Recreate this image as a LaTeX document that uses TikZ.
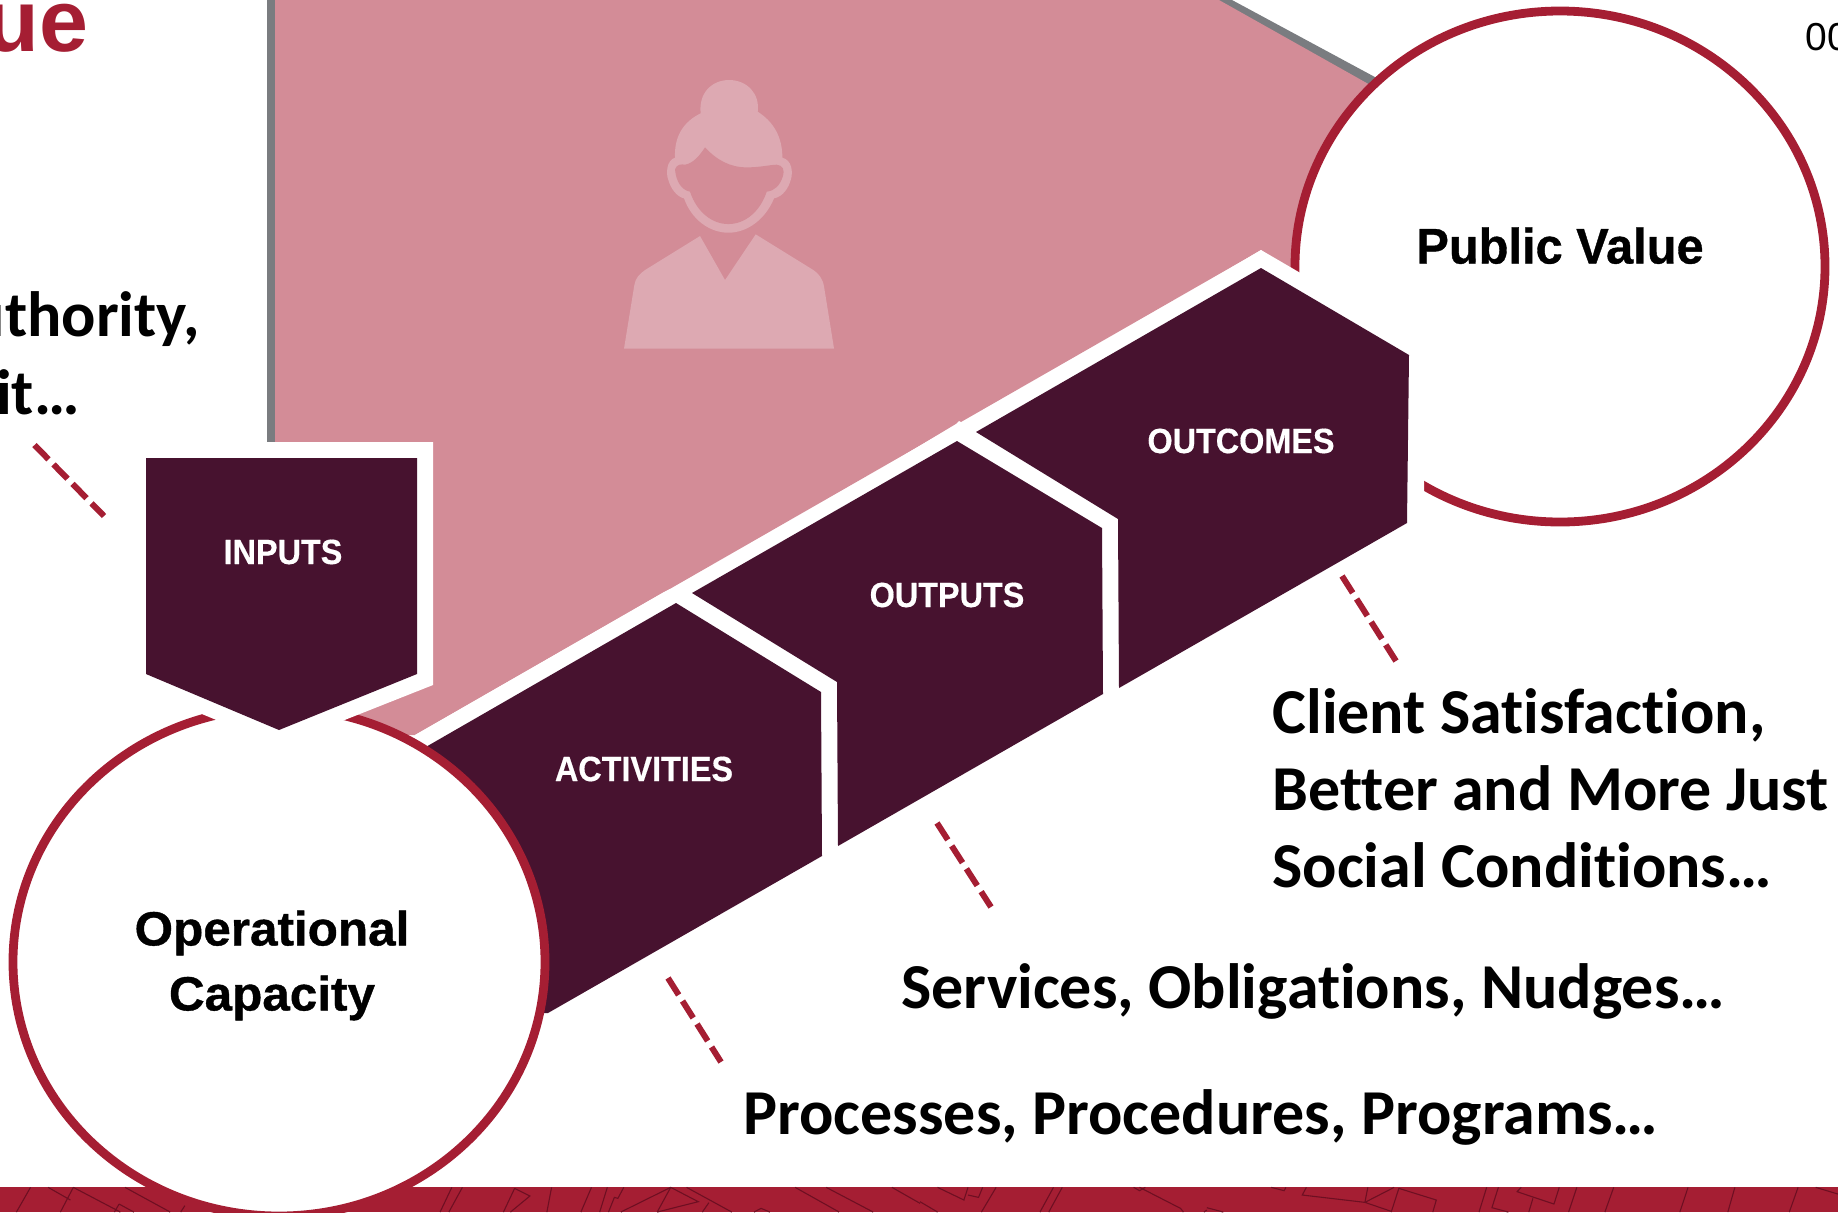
\documentclass[tikz,border=0pt]{standalone}
\usepackage{fontspec}
\newfontfamily\cb{Carlito}[Ligatures=NoCommon]
\newfontfamily\lab{Liberation Sans}[FakeStretch=0.925,FakeBold=0.4]
\newfontfamily\labb{Liberation Sans}[FakeStretch=0.975,FakeBold=0.7]
\newfontfamily\labc{Liberation Sans}[FakeStretch=1.03,FakeBold=0.8]
\newfontfamily\ar{Liberation Sans}
\definecolor{pinkc}{HTML}{D38C97}
\definecolor{grayc}{HTML}{7A7C80}
\definecolor{redc}{HTML}{A51E33}
\definecolor{darkc}{HTML}{47122F}
\definecolor{persc}{HTML}{DDA9B2}
\definecolor{linec}{HTML}{6E0F22}
\tikzset{
  hex/.style={fill=darkc,draw=none},
  ring/.style={fill=white,draw=redc,line width=4.4pt},
  leader/.style={draw=redc,line width=3pt,dash pattern=on 10pt off 3.6pt},
  steplabel/.style={inner sep=0pt,anchor=base,text=white,font=\lab\bfseries\fontsize{17.5}{20}\selectfont},
  ringlabel/.style={inner sep=0pt,text=black},
  bodytext/.style={inner sep=0pt,text=black,anchor=base west,font=\cb\bfseries\fontsize{32}{38.5}\selectfont},
  tex/.style={draw=linec,line width=0.55pt}
}
\begin{document}
\begin{tikzpicture}[x=0.5pt,y=-0.5pt]
\useasboundingbox (0,0) rectangle (1838,1212);
\clip (0,0) rectangle (1838,1212);
% background area
\fill[grayc] (267,0) -- (1232,0) -- (1386,83) -- (1340,120) -- (275,442) -- (267,442) -- cycle;
\fill[pinkc] (275,0) -- (1219,0) -- (1372,86) -- (1330,300) -- (1261,250) -- (415,735) -- (275,735) -- cycle;
% bottom band with texture
\fill[redc] (0,1187) rectangle (1838,1212);
\begin{scope}[shift={(0,1140)},x=0.2934pt,y=-0.1667pt]
\draw[tex] (52,142)--(28,216) (82,142)--(120,180) (125,142)--(103,216) (125,142)--(205,216) (213,142)--(290,216)
 (203,192)--(195,216) (203,192)--(228,216) (315,197)--(308,216) (770,142)--(750,216) (788,142)--(765,216)
 (877,145)--(858,216) (877,145)--(903,168)--(870,216) (940,142)--(932,216) (1008,142)--(990,216) (1035,142)--(1022,216)
 (1063,142)--(1053,175)--(1047,172)--(1037,216) (1143,142)--(1058,216) (1143,142)--(1190,185)--(1120,216) (1143,142)--(1120,216)
 (1170,142)--(1247,216) (1208,188)--(1197,216) (1297,205)--(1285,216) (1297,205)--(1312,216) (1355,142)--(1430,216)
 (1408,142)--(1488,216) (1520,142)--(1568,190);
\end{scope}
\begin{scope}[shift={(920,1140)},x=0.2927pt,y=-0.1667pt]
\draw[tex] (30,142)--(75,180)--(82,142) (82,165)--(100,172)--(107,142) (0,185)--(30,216) (130,142)--(105,216)
 (243,142)--(220,216) (228,142)--(205,216) (365,142)--(375,152)--(385,142) (375,142)--(445,205)--(450,216)
 (490,210)--(485,216) (490,203)--(518,216) (600,142)--(622,152)--(625,142)
 (660,142)--(653,165)--(760,187)--(765,142) (810,142)--(760,187)--(805,214) (818,145)--(805,216)
 (818,145)--(882,180)--(876,216) (968,142)--(955,216) (988,142)--(977,203)--(1005,216)
 (1027,142)--(1020,155)--(1083,192)--(1092,142) (1047,175)--(1040,216) (1122,142)--(1108,216)
 (1185,142)--(1170,216) (1312,142)--(1298,216) (1392,142)--(1380,216) (1500,142)--(1485,216) (1530,142)--(1568,162);
\end{scope}
% person icon
\begin{scope}[shift={(600,60)},x=0.1667pt,y=-0.1667pt]
\fill[persc] (72,866) -- (702,866) -- (672,680) .. controls (668,655) and (655,640) .. (640,630) -- (467,523) -- (375,660) -- (300,528) -- (135,630) .. controls (118,642) and (106,655) .. (103,675) -- cycle;
\fill[persc] (225,293) .. controls (200,300) and (197,340) .. (205,360) .. controls (212,385) and (230,410) .. (252,415)
 .. controls (275,480) and (330,518) .. (385,518) .. controls (440,518) and (495,480) .. (522,415)
 .. controls (548,410) and (565,385) .. (572,360) .. controls (580,335) and (575,300) .. (547,293)
 .. controls (547,230) and (520,185) .. (473,155) .. controls (480,100) and (440,60) .. (387,60)
 .. controls (335,60) and (295,100) .. (302,160) .. controls (250,185) and (222,230) .. (225,293) -- cycle;
\fill[pinkc] (225,328) .. controls (230,312) and (245,312) .. (255,314) .. controls (280,310) and (300,285) .. (315,262)
 .. controls (350,300) and (390,322) .. (440,322) .. controls (480,322) and (505,315) .. (530,314)
 .. controls (548,316) and (555,328) .. (548,350) .. controls (540,375) and (525,392) .. (500,395)
 .. controls (480,455) and (435,492) .. (385,492) .. controls (335,492) and (290,455) .. (270,395)
 .. controls (245,390) and (228,365) .. (225,328) -- cycle;
\end{scope}
% public value circle
\draw[ring] (1560,266.5) ellipse [x radius=265,y radius=255.5];
% chevron band
\fill[white] (415,735) -- (664,592) -- (670,589) -- (676,592) -- (956,424) -- (959,421) -- (968,426) -- (1261,250) -- (1424,345) -- (1424,532) -- (548,1040) -- (415,1040) -- cycle;
\fill[hex] (431,744) -- (676,603) -- (821,692) -- (822,856) -- (548,1013) -- (400,1013) -- (400,762) -- cycle;
\fill[hex] (692,593) -- (957,441) -- (1102,528) -- (1103,694) -- (838,846) -- (837,682) -- cycle;
\fill[hex] (976,432) -- (1261,268) -- (1409,355) -- (1407,523) -- (1119,688) -- (1118,519) -- cycle;
% operational capacity circle
\draw[ring] (279,962) ellipse [x radius=266,y radius=254];
% inputs
\fill[white] (120,442) -- (433,442) -- (433,685) -- (279,746) -- (120,680) -- cycle;
\fill[hex] (146,458) -- (417,458) -- (417,674) -- (279,730) -- (146,674) -- cycle;
% labels
\node[steplabel] (inputs) at (283,564) {INPUTS};
\node[steplabel] (activities) at (644,781) {ACTIVITIES};
\node[steplabel] (outputs) at (947,607) {OUTPUTS};
\node[steplabel] (outcomes) at (1241,453) {OUTCOMES};
\node[ringlabel,anchor=base,font=\labb\bfseries\fontsize{25}{30}\selectfont] (pv) at (1560,263.5) {Public Value};
\node[ringlabel,align=center,anchor=center,font=\labc\bfseries\fontsize{24}{32.5}\selectfont] (oc) at (272,965.5) {Operational\\Capacity};
% text
\node[inner sep=0pt,anchor=base east,text=redc,font=\ar\bfseries\fontsize{44}{50}\selectfont] (title) at (89,51) {ue};
\node[bodytext,anchor=base east] (auth) at (200,336) {uthority,};
\node[bodytext,anchor=base east] (cred) at (80,414) {it…};
\node[bodytext,align=left,anchor=north west] (client) at (1272,688.5) {Client Satisfaction,\\Better and More Just\\Social Conditions…};
\node[bodytext] (serv) at (901,1008) {Services, Obligations, Nudges…};
\node[bodytext] (proc) at (743,1134) {Processes, Procedures, Programs…};
\node[inner sep=0pt,anchor=base west,text=black,font=\ar\fontsize{19.5}{24}\selectfont] (num) at (1805,50) {00};
% leaders
\coordinate (l1a) at (34.5,445); \coordinate (l1b) at (104,516);
\coordinate (l2a) at (668,978); \coordinate (l2b) at (721,1062);
\coordinate (l3a) at (937,823); \coordinate (l3b) at (991,907);
\coordinate (l4a) at (1342,576); \coordinate (l4b) at (1396,661);
\draw[leader] (l1a) -- (l1b);
\draw[leader] (l2a) -- (l2b);
\draw[leader] (l3a) -- (l3b);
\draw[leader] (l4a) -- (l4b);
\end{tikzpicture}
\end{document}
